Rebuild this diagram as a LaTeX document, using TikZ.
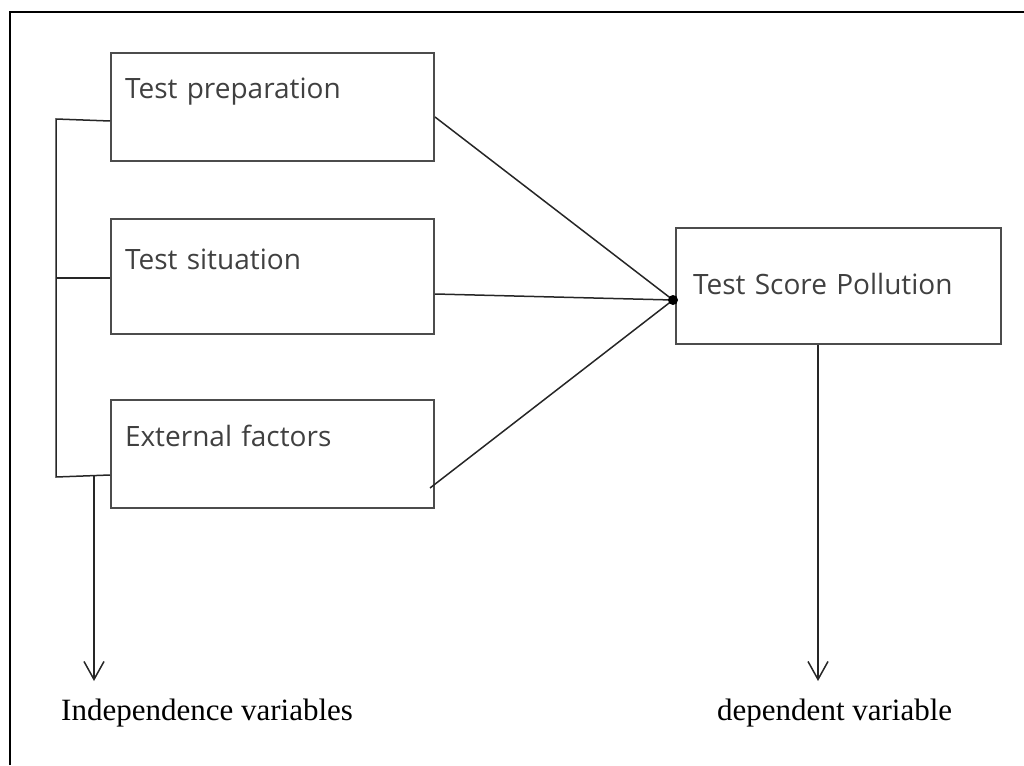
\documentclass[tikz,border=0pt]{standalone}
\usepackage{fontspec}
\setmainfont{Liberation Serif}
\newfontfamily\boxfont{Open Sans}
\usetikzlibrary{arrows.meta}
\tikzset{
  varbox/.style={draw=black!70, line width=2pt, anchor=north west, inner ysep=0pt,
    inner xsep=14pt, text width=295pt, align=left, text=black!75,
    font=\boxfont\fontsize{28}{34}\selectfont},
  link/.style={draw=black!85, line width=1.5pt},
  downarrow/.style={link, -{Straight Barb[length=18pt,width=20pt,line width=1.5pt]}},
  caption/.style={font=\fontsize{31}{36}\selectfont, text=black, inner sep=0pt}
}
\begin{document}
\begin{tikzpicture}[x=1pt,y=-1pt]
\useasboundingbox (0,0) rectangle (1024,765);
% outer frame (only top and left edges visible)
\draw[line width=2pt] (10,765) -- (10,12.5) -- (1024,12.5);
% independent variable boxes
\node[varbox, text height=46pt, text depth=62pt] (prep) at (110,52) {Test preparation};
\node[varbox, text height=50pt, text depth=65pt] (sit) at (110,218) {Test situation};
\node[varbox, text height=46pt, text depth=62pt] (ext) at (110,399) {External factors};
% dependent variable box
\node[varbox, inner xsep=17pt, text width=291pt, text height=66pt, text depth=50pt] (tsp) at (675,227) {Test Score Pollution};
% convergence point
\coordinate (hub) at (673,300);
\path[link] (prep.east |- 0,117) -- (hub);
\path[link] (sit.east |- 0,294) -- (hub);
\path[link] (430,488) -- (hub);
\fill[black] (hub) circle (5pt);
% bracket
\coordinate (bt) at (56,119);
\coordinate (bm) at (56,278);
\coordinate (bb) at (56,477);
\path[link] (prep.west |- 0,121) -- (bt) -- (bb) -- (ext.west |- 0,475);
\path[link] (bm) -- (sit.west |- bm);
% captions
\coordinate (ia) at (94,476);
\node[caption, anchor=base west] (indep) at (61,720) {Independence variables};
\node[caption, anchor=base west] (dep) at (717,720) {dependent variable};
\draw[downarrow] (ia) -- (94,681);
\draw[downarrow] (tsp.south -| 818,0) -- (818,681);
\end{tikzpicture}
\end{document}
